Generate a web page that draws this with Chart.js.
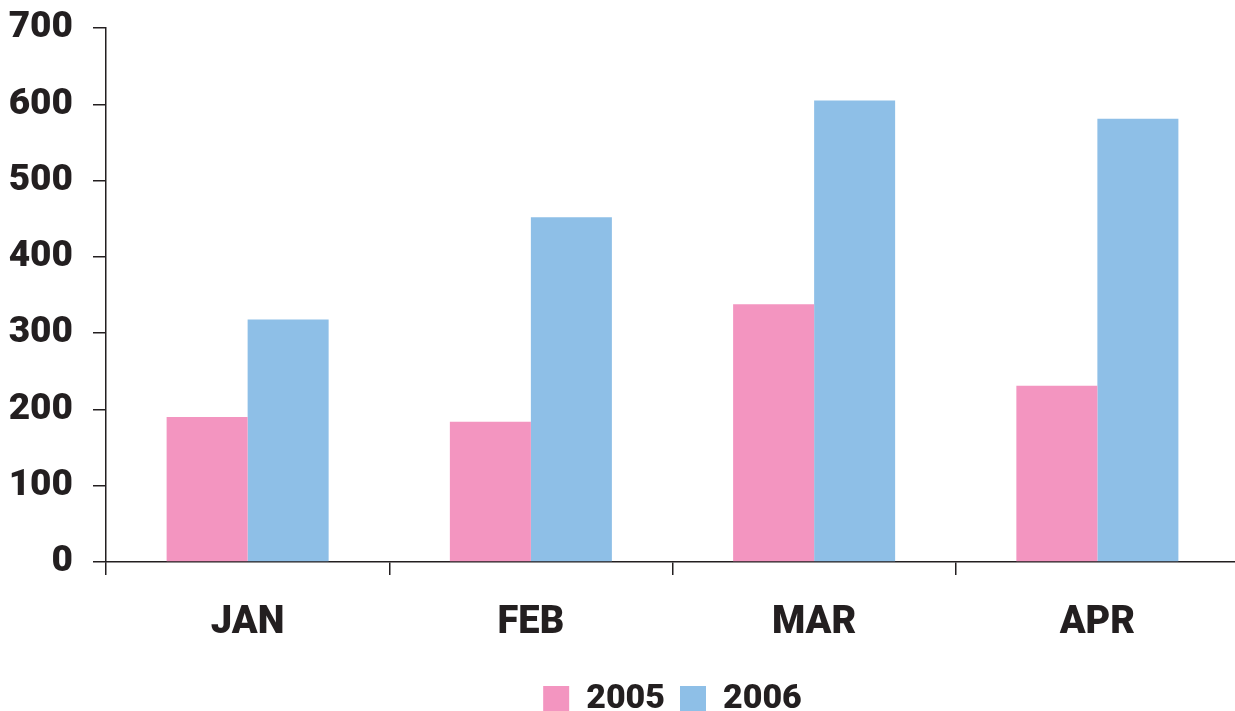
<!DOCTYPE html>
<html><head><meta charset="utf-8">
<script src="https://cdn.jsdelivr.net/npm/chart.js@4.4.1/dist/chart.umd.min.js"></script>
<style>
html,body{margin:0;padding:0;background:#fff;overflow:hidden;}
#wrap{position:relative;width:1240px;height:711px;}
</style></head>
<body><div id="wrap"><canvas id="c"></canvas></div>
<script>
const categories = ["JAN", "FEB", "MAR", "APR"];
const series2005 = [190, 184, 338, 231];
const series2006 = [318, 452, 605, 581];
const seriesNames = ["2005", "2006"];
const yTicks = [0, 100, 200, 300, 400, 500, 600, 700];

const ink = '#231F20';
const fontFam = 'Roboto, "Open Sans", "DejaVu Sans", sans-serif';
const legendPad = 15;

new Chart(document.getElementById('c'), {
  type: 'bar',
  data: {
    labels: categories,
    datasets: [
      { label: seriesNames[0], data: series2005, backgroundColor: '#F395C0', borderWidth: 0 },
      { label: seriesNames[1], data: series2006, backgroundColor: '#8EBFE7', borderWidth: 0 }
    ]
  },
  options: {
    responsive: true,
    maintainAspectRatio: false,
    animation: false,
    datasets: { bar: { barPercentage: 1.0, categoryPercentage: 0.572 } },
    layout: { padding: { top: 28, left: 0, right: 1, bottom: -legendPad } },
    plugins: {
      tooltip: { enabled: false },
      legend: {
        position: 'bottom',
        fullSize: false,
        labels: {
          boxWidth: 26, boxHeight: 26, padding: legendPad, color: ink,
          font: { family: fontFam, size: 34, weight: 900 }
        }
      }
    },
    scales: {
      x: {
        grid: { drawOnChartArea: false, offset: true, tickLength: 13, color: ink, lineWidth: 1.5 },
        border: { color: ink, width: 1.5 },
        ticks: { color: ink, padding: 26, font: { family: fontFam, size: 38, weight: 900 } },
        afterFit: (s) => { s.height = 680 - legendPad - 560; }
      },
      y: {
        min: 0, max: 700,
        afterBuildTicks: (s) => { s.ticks = yTicks.map(v => ({ value: v })); },
        grid: { drawOnChartArea: false, tickLength: 13, color: ink, lineWidth: 1.5 },
        border: { color: ink, width: 1.5 },
        ticks: { color: ink, padding: 20, font: { family: fontFam, size: 37, weight: 900 } },
        afterFit: (s) => { s.width = 106; s.paddingTop = 0; s.paddingBottom = 0; }
      }
    }
  }
});
</script></body></html>
